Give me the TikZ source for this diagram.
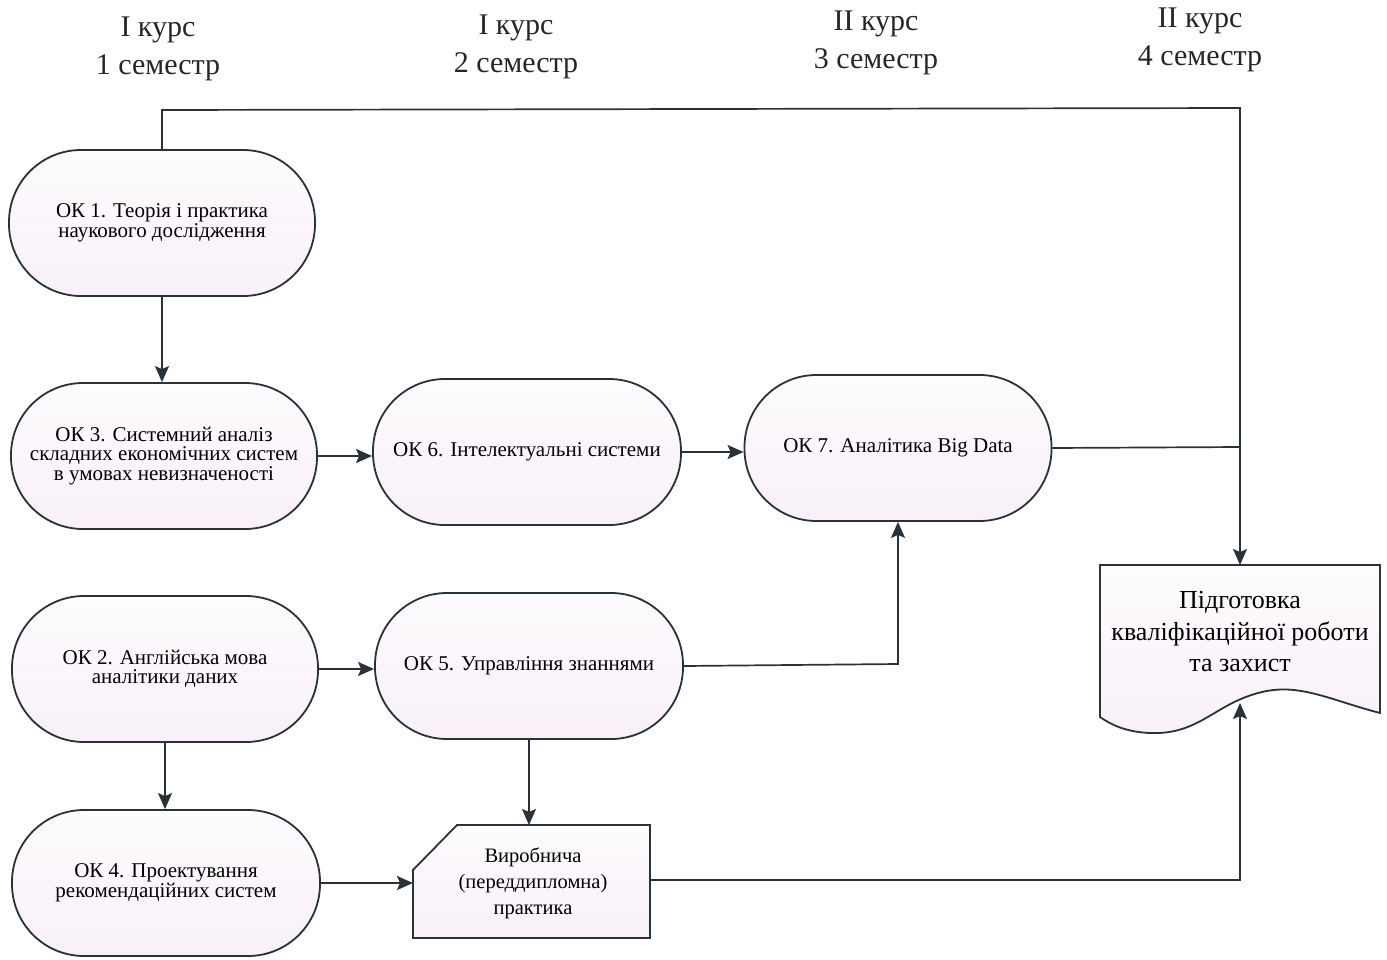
\documentclass[tikz,border=0pt]{standalone}
\usepackage{fontspec}
\setmainfont{Liberation Serif}
\usetikzlibrary{arrows.meta}
\definecolor{ln}{RGB}{42,50,55}
\definecolor{fillA}{RGB}{253,252,254}
\definecolor{fillB}{RGB}{249,240,249}
\begin{document}
\begin{tikzpicture}[x=1pt,y=-1pt,
  conn/.style={draw=ln,line width=1.7pt},
  arr/.style={conn,-{Stealth[length=16pt,width=14pt,inset=3pt]}},
  shp/.style={draw=ln,line width=1.8pt,top color=fillA,bottom color=fillB},
  okbox/.style={shp,rectangle,rounded corners=72pt,
     minimum width=306pt,minimum height=146pt,inner sep=0pt,
     align=center,font=\fontsize{21}{19.5}\selectfont},
  hdr/.style={align=center,font=\fontsize{30}{38}\selectfont,text=black!85},
]
\useasboundingbox (0,0) rectangle (1387,959);
\fill[white] (0,0) rectangle (1387,959);

% headers
\node[hdr] (h1) at (158,49) {І курс\\1 семестр};
\node[hdr] (h2) at (516,47) {І курс\\2 семестр};
\node[hdr] (h3) at (876,43) {ІІ курс\\3 семестр};
\node[hdr] (h4) at (1200,40) {ІІ курс\\4 семестр};

% OK nodes
\node[okbox] (ok1) at (162,223) {ОК 1. Теорія і практика\\наукового дослідження};
\node[okbox] (ok3) at (164,456) {ОК 3. Системний аналіз\\складних економічних систем\\в умовах невизначеності};
\node[okbox,minimum width=308pt] (ok6) at (527,452) {ОК 6. Інтелектуальні системи};
\node[okbox,minimum width=307pt] (ok7) at (898,448) {ОК 7. Аналітика Big Data};
\node[okbox] (ok2) at (165,669) {ОК 2. Англійська мова\\аналітики даних};
\node[okbox,minimum width=308pt] (ok5) at (529,666) {ОК 5. Управління знаннями};
\node[okbox,minimum width=308pt] (ok4) at (166,883) {ОК 4. Проектування\\рекомендаційних систем};

% practice node
\path[shp] (413,870) -- (457,825) -- (650,825) -- (650,938) -- (413,938) -- cycle;
\node[align=center,font=\fontsize{20.5}{26}\selectfont] (pr) at (533,883)
  {Виробнича\\(переддипломна)\\практика};
\coordinate (prT) at (531,825);
\coordinate (prL) at (413,882);
\coordinate (prR) at (650,880);

% document node
\coordinate (dtop) at (1240,565);
\coordinate (dbot) at (1240,703);
\path[shp]
  (1100,565) -- (1380,565) -- (1380,713)
  .. controls (1330,700) and (1300,683) .. (1262,692)
  .. controls (1215,703) and (1200,735) .. (1150,733)
  .. controls (1125,732) and (1110,724) .. (1100,717) -- cycle;
\node[align=center,font=\fontsize{26}{31.5}\selectfont] (doc) at (1240,632)
  {Підготовка\\кваліфікаційної роботи\\та захист};

% connectors
\coordinate (tl) at (162,110);
\coordinate (tr) at (1240,108);
\draw[arr] (ok1.north) -- (tl) -- (tr) -- (dtop);
\draw[arr] (ok1.south) -- (ok3.north -| ok1.south);
\draw[arr] (ok3.east) -- (ok6.west |- ok3.east);
\draw[arr] (ok6.east) -- (ok7.west |- ok6.east);
\coordinate (j7) at (1240,447);
\draw[conn] (ok7.east) -- (j7);
\draw[arr] (ok2.east) -- (ok5.west |- ok2.east);
\coordinate (b5) at (898,664);
\draw[arr] (ok5.east) -- (b5) -- (ok7.south);
\draw[arr] (ok2.south) -- (ok4.north -| ok2.south);
\draw[arr] (ok5.south) -- (prT -| ok5.south);
\draw[arr] (ok4.east) -- (prL |- ok4.east);
\coordinate (bp) at (1240,880);
\draw[arr] (prR) -- (bp) -- (dbot);
\end{tikzpicture}
\end{document}
